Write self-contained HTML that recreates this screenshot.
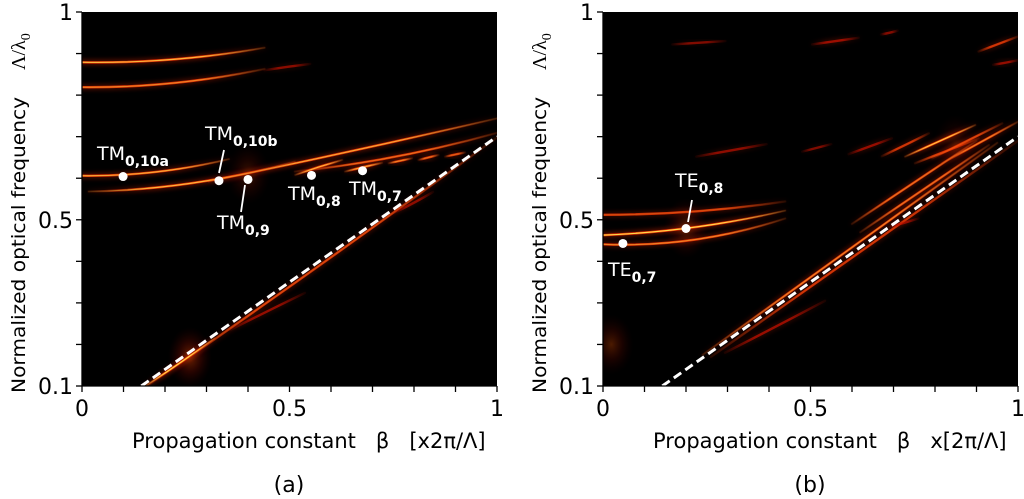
<!DOCTYPE html>
<html><head><meta charset="utf-8">
<style>
html,body{margin:0;padding:0;background:#fff;}
svg{display:block;font-family:"DejaVu Sans","Liberation Sans",sans-serif;}
</style></head>
<body>
<svg id="fig" width="1024" height="499" viewBox="0 0 1024 499">
<defs>
<filter id="blur2" x="-20%" y="-50%" width="140%" height="200%"><feGaussianBlur stdDeviation="2"/></filter>
<clipPath id="clipA"><rect x="82" y="12" width="415" height="374"/></clipPath>
<clipPath id="clipB"><rect x="603" y="12" width="415" height="374"/></clipPath>
</defs>
<g id="panelA"></g>
<g id="panelB"></g>
</svg>
<script>
// ---- Panel (a) bands: start beta, start freq, mid freq, end beta, end freq, intensity
const aB0 = [0, 0, 0.44, 0, 0.016, 0.305, 0.513, 0.514, 0.634, 0.739, 0.811, 0.875, 0.15, 0.15, 0.357, 0.75];
const aF0 = [0.879, 0.819, 0.86, 0.606, 0.568, 0.592, 0.616, 0.608, 0.616, 0.636, 0.644, 0.652, 0.095, 0.098, 0.235, 0.516];
const aFm = [0.886, 0.829, 0.868, 0.615, 0.588, 0.666, 0.652, 0.627, 0.627, 0.642, 0.650, 0.657, 0.392, 0.155, 0.28, 0.54];
const aB1 = [0.44, 0.44, 0.55, 0.354, 0.513, 1.0, 1.0, 0.627, 0.723, 0.795, 0.859, 0.923, 1.0, 0.32, 0.537, 0.846];
const aF1 = [0.914, 0.863, 0.875, 0.646, 0.64, 0.744, 0.709, 0.644, 0.637, 0.648, 0.656, 0.662, 0.698, 0.215, 0.324, 0.567];
const aInt = [0.9, 0.75, 0.3, 0.85, 0.9, 0.85, 0.7, 0.9, 0.85, 0.75, 0.7, 0.65, 0.6, 1.0, 0.4, 0.3];
const aSpotB = [0.26, 0.4];
const aSpotF = [0.17, 0.61];
const aSpotI = [0.9, 0.5];

// ---- Panel (b) bands
const bB0 = [0, 0, 0, 0.167, 0.504, 0.67, 0.905, 0.94, 0.225, 0.48, 0.592, 0.672, 0.728, 0.752, 0.817, 0.793, 0.24, 0.60, 0.62, 0.26, 0.294, 0.688];
const bF0 = [0.512, 0.463, 0.441, 0.922, 0.922, 0.946, 0.905, 0.873, 0.652, 0.664, 0.658, 0.653, 0.652, 0.636, 0.636, 0.648, 0.175, 0.49, 0.47, 0.17, 0.18, 0.482];
const bFm = [0.52, 0.482, 0.452, 0.926, 0.930, 0.950, 0.923, 0.878, 0.667, 0.673, 0.677, 0.680, 0.690, 0.666, 0.686, 0.690, 0.43, 0.59, 0.575, 0.43, 0.242, 0.492];
const bB1 = [0.439, 0.439, 0.439, 0.295, 0.616, 0.71, 1.0, 1.0, 0.394, 0.55, 0.696, 0.785, 0.897, 0.905, 1.0, 0.962, 0.95, 0.90, 0.93, 1.0, 0.535, 0.76];
const bF1 = [0.544, 0.522, 0.503, 0.930, 0.938, 0.955, 0.941, 0.884, 0.682, 0.682, 0.696, 0.708, 0.728, 0.696, 0.736, 0.732, 0.685, 0.69, 0.68, 0.69, 0.305, 0.503];
const bInt = [0.6, 1.0, 0.75, 0.2, 0.5, 0.25, 0.55, 0.4, 0.35, 0.2, 0.45, 0.55, 0.95, 0.6, 0.75, 0.6, 0.75, 0.7, 0.7, 0.55, 0.45, 0.35];
const bSpotB = [0.02, 0.2, 0.85];
const bSpotF = [0.2, 0.48, 0.68];
const bSpotI = [0.6, 0.7, 0.4];

// light line
const lightB = [0.143, 1.0];
const lightF = [0.1, 0.7];

const xTicks = [0,0.1,0.2,0.3,0.4,0.5,0.6,0.7,0.8,0.9,1];
const xTickLabels = ["0","","","","","0.5","","","","","1"];
const yTicks = [0.1,0.2,0.3,0.4,0.5,0.6,0.7,0.8,0.9,1];
const yTickLabels = ["0.1","","","","0.5","","","","","1"];

const NS = "http://www.w3.org/2000/svg";
let gid = 0;
function el(tag, attrs, parent){ const e=document.createElementNS(NS,tag); for(const k in attrs) e.setAttribute(k,attrs[k]); if(parent) parent.appendChild(e); return e; }
const defs = document.querySelector('defs');

function makePanel(g, X0, clipId, B0,F0,Fm,B1,F1,INT, SB,SF,SI, xlabel, letter, annotations){
  const W=415, top=12, bot=386;
  const sx = b => X0 + b*W;
  const sy = f => bot - (f-0.1)/0.9*(bot-top);
  const bg = el('rect',{x:X0,y:top,width:W,height:bot-top,fill:'#000'},g);
  
  
  const cg = el('g',{'clip-path':'url(#'+clipId+')'},g);
  
  
  for(let i=0;i<SB.length;i++){
    const gr = el('radialGradient',{id:'sp'+(++gid)},defs);
    el('stop',{offset:'0','stop-color':'#ff5a00','stop-opacity':0.5*SI[i]},gr);
    el('stop',{offset:'0.5','stop-color':'#a01000','stop-opacity':0.28*SI[i]},gr);
    el('stop',{offset:'1','stop-color':'#500000','stop-opacity':0},gr);
    const c = el('ellipse',{cx:sx(SB[i]),cy:sy(SF[i]),rx:22,ry:30,fill:'url(#sp'+gid+')'},cg);
    
    
  }
  for(let i=0;i<B0.length;i++){
    const x0=sx(B0[i]), y0=sy(F0[i]), x1=sx(B1[i]), y1=sy(F1[i]);
    const xm=sx((B0[i]+B1[i])/2), ym=sy(Fm[i]);
    const cx=2*xm-(x0+x1)/2, cy=2*ym-(y0+y1)/2;
    const d=`M${x0},${y0} Q${cx},${cy} ${x1},${y1}`;
    const it=INT[i];
    const so = B0[i]<0.01?1:0.15;
    const layers=[
      {c:'#d02000',w:6,o:0.4*it,f:'url(#blur2)'},
      {c:it>0.5?'#f03000':'#c01000',w:2.4,o:0.55+0.45*it,f:null},
      {c:'#ffd84a',w:1.2,o:Math.max(0,(it-0.5)*2),f:null}
    ];
    const bandG = el('g',{},cg);
    
    
    layers.forEach(L=>{
      if(L.o<=0) return;
      const gr=el('linearGradient',{id:'bg'+(++gid),gradientUnits:'userSpaceOnUse',x1:x0,y1:y0,x2:x1,y2:y1},defs);
      el('stop',{offset:'0','stop-color':L.c,'stop-opacity':so},gr);
      el('stop',{offset:'0.3','stop-color':L.c,'stop-opacity':1},gr);
      el('stop',{offset:'0.65','stop-color':L.c,'stop-opacity':1},gr);
      el('stop',{offset:'1','stop-color':L.c,'stop-opacity':0.15},gr);
      const p=el('path',{d:d,fill:'none',stroke:'url(#bg'+gid+')','stroke-width':L.w,opacity:L.o,'stroke-linecap':'round'},bandG);
      if(L.f) p.setAttribute('filter',L.f);
    });
  }
  const ll = el('line',{x1:sx(lightB[0]),y1:sy(lightF[0]),x2:sx(lightB[1]),y2:sy(lightF[1]),stroke:'#fff','stroke-width':3,'stroke-dasharray':'9,5'},cg);
  
  
  const ax = el('g',{stroke:'#000','stroke-width':1.3},g);
  
  
  el('line',{x1:X0,y1:top,x2:X0,y2:bot},ax);
  el('line',{x1:X0,y1:bot,x2:X0+W,y2:bot},ax);
  xTicks.forEach((t,i)=>{
    el('line',{x1:sx(t),y1:bot,x2:sx(t),y2:bot+6},ax);
    if(xTickLabels[i]){
      const tx=el('text',{x:sx(t),y:bot+30,'font-size':22,'text-anchor':'middle',fill:'#000',stroke:'none'},g);
      tx.textContent=xTickLabels[i];
      
      
    }
  });
  yTicks.forEach((t,i)=>{
    el('line',{x1:X0-6,y1:sy(t),x2:X0,y2:sy(t)},ax);
    if(yTickLabels[i]){
      const tx=el('text',{x:X0-9,y:sy(t)+8,'font-size':22,'text-anchor':'end',fill:'#000',stroke:'none'},g);
      tx.textContent=yTickLabels[i];
      
      
    }
  });
  const yt=el('text',{transform:`translate(${X0-57},393) rotate(-90)`,'font-size':19,fill:'#000',textLength:296,lengthAdjust:'spacingAndGlyphs'},g);
  yt.textContent='Normalized optical frequency';
  
  
  const yu=el('text',{transform:`translate(${X0-57},70) rotate(-90)`,'font-size':20,fill:'#000','font-family':'Liberation Serif, serif'},g);
  yu.innerHTML='Λ/λ<tspan font-size="14" dy="5">0</tspan>';
  
  
  const xt=el('text',{x:X0+50,y:448,'font-size':21,fill:'#000'},g);
  xt.textContent=xlabel;
  xt.style.whiteSpace='pre';
  
  
  const lt=el('text',{x:X0+207,y:492,'font-size':22,'text-anchor':'middle',fill:'#000'},g);
  lt.textContent=letter;
  
  
  annotations.forEach(a=>{
    const ag=el('g',{},g);
    
    
    const px=sx(a.b), py=sy(a.f);
    if(a.lead) el('line',{x1:a.lead[0],y1:a.lead[1],x2:a.lead[2],y2:a.lead[3],stroke:'#fff','stroke-width':1.8},ag);
    el('circle',{cx:px,cy:py,r:4.5,fill:'#fff'},ag);
    const t=el('text',{x:a.tx,y:a.ty,'font-size':19,fill:'#fff'},ag);
    t.innerHTML=a.name+'<tspan font-size="14" font-weight="bold" dy="6">'+a.sub+'</tspan>';
  });
}

makePanel(document.getElementById('panelA'),82,'clipA',aB0,aF0,aFm,aB1,aF1,aInt,aSpotB,aSpotF,aSpotI,
  'Propagation constant   β   [x2π/Λ]','(a)',[
   {b:0.099,f:0.604,name:'TM',sub:'0,10a',tx:97,ty:160},
   {b:0.33,f:0.594,name:'TM',sub:'0,10b',tx:205,ty:140,lead:[224,150,219,173]},
   {b:0.40,f:0.597,name:'TM',sub:'0,9',tx:217,ty:229,lead:[245,185,241,212]},
   {b:0.553,f:0.607,name:'TM',sub:'0,8',tx:288,ty:200},
   {b:0.676,f:0.618,name:'TM',sub:'0,7',tx:349,ty:195}
  ]);
makePanel(document.getElementById('panelB'),603,'clipB',bB0,bF0,bFm,bB1,bF1,bInt,bSpotB,bSpotF,bSpotI,
  'Propagation constant   β   x[2π/Λ]','(b)',[
   {b:0.2,f:0.479,name:'TE',sub:'0,8',tx:675,ty:187,lead:[692,200,688,222]},
   {b:0.048,f:0.443,name:'TE',sub:'0,7',tx:608,ty:276}
  ]);
</script>
</body></html>
